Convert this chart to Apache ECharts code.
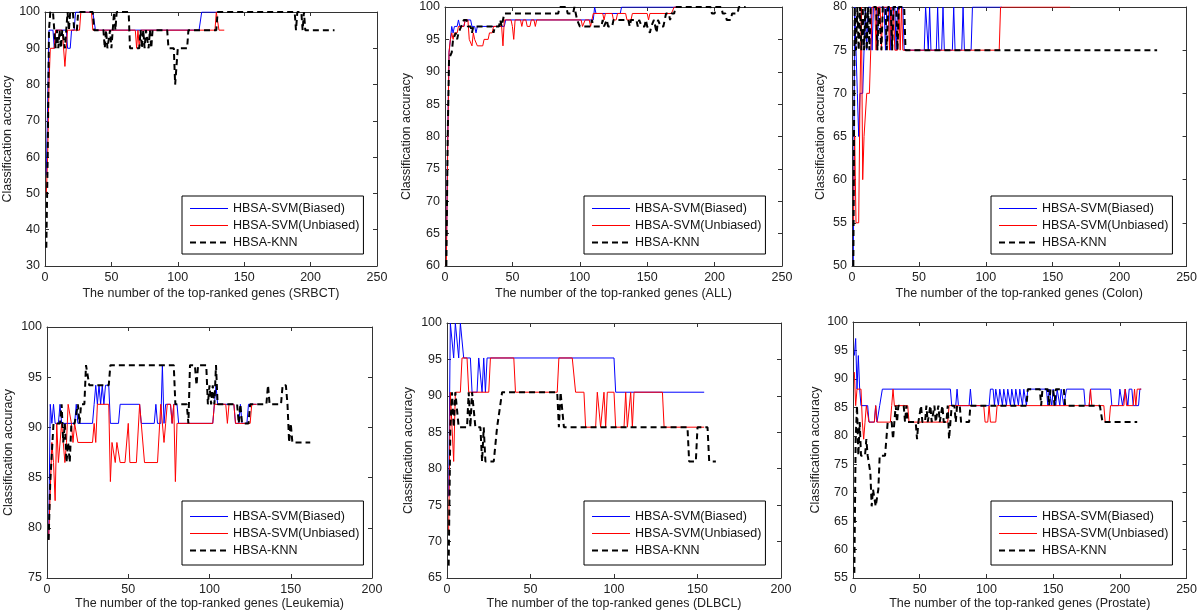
<!DOCTYPE html>
<html>
<head>
<meta charset="utf-8">
<script src="https://cdn.jsdelivr.net/npm/echarts@6/dist/echarts.min.js"></script>
<style>
html, body { margin: 0; padding: 0; background: #fff; }
#chart { width: 1200px; height: 611px; }
</style>
</head>
<body>
<div id="chart"></div>
<script>
// series names and dataset labels
const seriesNames = ["HBSA-SVM(Biased)", "HBSA-SVM(Unbiased)", "HBSA-KNN"];
const datasets = ["SRBCT", "ALL", "Colon", "Leukemia", "DLBCL", "Prostate"];
const xMax = [250, 250, 250, 200, 200, 250];
const yMin = [30, 60, 50, 75, 65, 55];
const yMax = [100, 100, 80, 100, 100, 100];
const yStep = [10, 5, 5, 5, 5, 5];

// [genes, accuracy] where the curve changes
const srbctBiased = [[1,55],[2,75],[3,95],[6,95],[7,90],[8,95],[16,95],[17,90],[19,90],[20,95],[22,95],[23,100],[36,100],[38,95],[116,95],[118,100],[133,100]];
const srbctUnbiased = [[1,50],[2,60],[3,80],[4,90],[7,90],[8,95],[13,95],[15,85],[17,95],[26,95],[27,100],[35,100],[36,95],[68,95],[69,90],[70,95],[71,90],[72,95],[128,95],[129,100],[130,100],[131,95],[135,95]];
const srbctKnn = [[1,35],[2,60],[3,95],[4,100],[6,100],[7,95],[8,90],[9,95],[10,90],[11,95],[12,90],[13,95],[14,95],[15,90],[16,95],[17,100],[18,95],[19,100],[21,100],[22,95],[24,95],[25,100],[36,100],[37,95],[44,95],[45,90],[46,95],[47,90],[48,90],[49,95],[50,90],[51,95],[52,100],[53,95],[54,100],[63,100],[64,90],[71,90],[72,95],[73,90],[74,95],[75,90],[76,95],[78,90],[79,95],[80,90],[81,95],[92,95],[93,90],[97,90],[98,80],[99,85],[100,90],[107,90],[108,95],[129,95],[130,100],[188,100],[189,95],[190,100],[193,100],[194,95],[195,100],[196,95],[218,95]];

const allBiased = [[1,62],[2,80],[3,93],[4,95],[5,97],[6,96],[7,97],[9,97],[10,98],[11,97],[14,97],[15,98],[19,98],[20,97],[22,97],[23,96],[24,97],[44,97],[45,98],[110,98],[111,100],[112,99],[130,99],[131,100],[175,100]];
const allUnbiased = [[1,60],[2,78],[3,93],[4,95],[5,96],[6,95],[7,96],[9,96],[10,97],[14,97],[15,98],[17,98],[18,95],[19,95],[20,94],[21,96],[22,95],[23,95],[24,94],[28,94],[29,95],[32,95],[33,96],[35,96],[36,97],[42,97],[43,94],[44,98],[49,98],[50,97],[51,95],[52,98],[56,98],[57,97],[58,98],[60,98],[61,97],[63,97],[64,98],[66,98],[67,97],[68,98],[101,98],[102,97],[103,97],[104,98],[107,98],[108,97],[109,98],[110,99],[117,99],[118,98],[119,99],[124,99],[125,98],[127,98],[128,99],[134,99],[135,98],[138,98],[139,99],[150,99],[151,98],[152,99],[168,99],[170,100],[174,100]];
const allKnn = [[1,60],[2,80],[3,92],[4,92],[5,93],[6,95],[7,95],[8,96],[9,95],[10,96],[11,96],[12,97],[14,98],[16,98],[17,97],[19,97],[20,96],[21,97],[35,97],[36,96],[37,97],[40,97],[41,98],[42,97],[43,98],[44,99],[84,99],[85,100],[90,100],[91,99],[95,99],[96,100],[97,99],[98,98],[99,98],[100,97],[108,97],[109,98],[110,97],[116,97],[117,98],[118,97],[120,98],[121,97],[124,97],[125,98],[136,98],[137,97],[138,98],[142,98],[143,97],[144,98],[146,97],[148,97],[149,98],[150,97],[152,96],[153,97],[155,98],[156,97],[157,96],[158,98],[160,97],[162,97],[163,98],[164,99],[166,99],[167,98],[168,99],[170,99],[171,100],[197,100],[198,99],[200,99],[201,100],[205,100],[206,99],[208,99],[209,98],[212,98],[213,99],[217,99],[218,100],[223,100]];

const colonBiased = [[1,50],[2,80],[3,75],[4,70],[5,65],[6,70],[8,70],[9,75],[10,80],[11,75],[12,80],[14,80],[15,75],[16,80],[18,80],[19,75],[20,80],[24,80],[25,75],[26,80],[28,80],[29,75],[30,80],[32,80],[33,75],[34,80],[38,80],[39,75],[54,75],[55,80],[56,80],[57,75],[58,80],[59,75],[63,75],[64,80],[65,75],[67,75],[68,80],[69,75],[75,75],[76,80],[77,75],[82,75],[83,80],[84,75],[89,75],[90,80],[112,80]];
const colonUnbiased = [[1,55],[2,65],[3,55],[5,55],[6,70],[7,80],[8,60],[9,65],[10,65],[11,70],[13,70],[14,75],[15,80],[17,80],[18,75],[19,80],[21,80],[22,75],[23,80],[27,80],[28,75],[29,80],[30,75],[31,80],[32,75],[34,75],[35,80],[36,75],[37,80],[38,75],[110,75],[111,80],[163,80]];
const colonKnn = [[1,50],[2,80],[3,75],[4,80],[5,75],[6,80],[7,75],[8,80],[9,75],[10,80],[11,75],[12,80],[13,75],[14,80],[18,80],[19,75],[20,80],[21,80],[22,75],[23,80],[25,80],[26,75],[27,80],[29,80],[30,75],[31,80],[33,80],[34,75],[35,80],[39,80],[40,75],[228,75]];

const leukBiased = [[1,78.8],[2,92.3],[3,90.4],[4,92.3],[5,90.4],[7,90.4],[8,92.3],[9,90.4],[17,90.4],[18,92.3],[19,90.4],[28,90.4],[29,92.3],[30,94.2],[31,92.3],[32,94.2],[33,92.3],[34,94.2],[35,92.3],[36,94.2],[38,94.2],[39,90.4],[44,90.4],[45,92.3],[57,92.3],[58,90.4],[66,90.4],[67,92.3],[68,90.4],[70,90.4],[71,96.2],[72,90.4],[73,92.3],[76,92.3],[77,90.4],[78,92.3],[80,92.3],[81,90.4],[102,90.4],[103,92.3],[104,94.2],[105,92.3],[115,92.3],[116,90.4],[118,90.4],[119,92.3],[120,90.4],[123,90.4],[124,92.3],[129,92.3]];
const leukUnbiased = [[1,78.8],[2,78.8],[3,88.5],[4,86.5],[5,82.7],[6,90.4],[7,86.5],[8,86.5],[9,90.4],[10,88.5],[11,86.5],[12,88.5],[13,92.3],[14,92.3],[15,90.4],[16,88.5],[17,90.4],[18,90.4],[19,88.5],[28,88.5],[29,90.4],[30,88.5],[31,92.3],[38,92.3],[39,84.6],[40,88.5],[41,88.5],[42,86.5],[43,88.5],[44,88.5],[45,86.5],[48,86.5],[50,90.4],[51,86.5],[55,86.5],[57,92.3],[58,90.4],[59,90.4],[60,86.5],[68,86.5],[70,92.3],[72,88.5],[73,90.4],[74,92.3],[76,92.3],[77,90.4],[78,92.3],[79,84.6],[80,90.4],[102,90.4],[103,92.3],[110,92.3],[111,90.4],[112,92.3],[115,92.3],[116,90.4],[125,90.4],[126,92.3],[129,92.3]];
const leukKnn = [[1,78.8],[2,84.6],[3,84.6],[4,90.4],[8,90.4],[9,92.3],[10,88.5],[11,90.4],[12,86.5],[13,88.5],[14,86.5],[15,90.4],[17,90.4],[19,92.3],[20,90.4],[21,92.3],[23,92.3],[24,96.2],[25,96.2],[26,94.2],[38,94.2],[39,96.2],[78,96.2],[79,92.3],[86,92.3],[87,90.4],[88,96.2],[91,96.2],[92,94.2],[93,96.2],[98,96.2],[99,92.3],[100,94.2],[101,92.3],[102,94.2],[103,92.3],[104,96.2],[105,92.3],[117,92.3],[118,90.4],[119,92.3],[120,90.4],[124,90.4],[125,92.3],[135,92.3],[136,94.2],[137,92.3],[144,92.3],[145,94.2],[147,94.2],[148,92.3],[149,88.5],[150,90.4],[151,88.5],[162,88.5]];

const dlbclBiased = [[1,76.2],[2,100],[3,100],[4,95.2],[5,100],[6,100],[7,95.2],[8,100],[9,100],[10,95.2],[14,95.2],[15,90.5],[18,90.5],[19,95.2],[20,95.2],[21,90.5],[22,95.2],[23,90.5],[24,95.2],[100,95.2],[101,90.5],[154,90.5]];
const dlbclUnbiased = [[1,71.4],[2,90.5],[3,85.7],[4,81],[5,90.5],[8,90.5],[9,95.2],[12,95.2],[13,90.5],[25,90.5],[26,95.2],[40,95.2],[41,90.5],[66,90.5],[67,95.2],[75,95.2],[77,90.5],[82,90.5],[83,85.7],[89,85.7],[90,90.5],[91,90.5],[92,85.7],[93,85.7],[94,90.5],[95,85.7],[96,90.5],[100,90.5],[101,85.7],[106,85.7],[107,90.5],[108,85.7],[109,85.7],[110,90.5],[111,85.7],[112,90.5],[129,90.5],[130,85.7],[154,85.7]];
const dlbclKnn = [[1,66.7],[2,85.7],[3,90.5],[4,85.7],[5,90.5],[6,90.5],[7,85.7],[12,85.7],[13,90.5],[14,85.7],[15,90.5],[16,90.5],[17,85.7],[20,85.7],[21,81],[22,85.7],[23,81],[28,81],[30,85.7],[31,85.7],[33,90.5],[66,90.5],[67,85.7],[68,90.5],[69,90.5],[70,85.7],[144,85.7],[145,81],[149,81],[150,85.7],[156,85.7],[157,81],[161,81]];

const prostateBiased = [[1,94.1],[2,97.1],[3,88.2],[4,94.1],[5,88.2],[6,85.3],[11,85.3],[12,82.4],[16,82.4],[17,85.3],[18,82.4],[19,82.4],[20,85.3],[21,85.3],[22,88.2],[73,88.2],[74,85.3],[77,85.3],[78,88.2],[79,85.3],[87,85.3],[88,88.2],[89,85.3],[102,85.3],[103,88.2],[105,88.2],[106,85.3],[107,88.2],[109,85.3],[110,88.2],[112,85.3],[113,88.2],[115,85.3],[116,88.2],[118,85.3],[119,88.2],[121,85.3],[122,88.2],[124,85.3],[125,88.2],[127,85.3],[128,88.2],[130,85.3],[131,88.2],[145,88.2],[146,85.3],[147,88.2],[149,85.3],[150,88.2],[152,85.3],[153,88.2],[155,85.3],[156,88.2],[158,85.3],[160,88.2],[173,88.2],[174,85.3],[177,85.3],[178,88.2],[193,88.2],[194,85.3],[199,85.3],[200,88.2],[201,88.2],[202,85.3],[203,85.3],[204,88.2],[205,88.2],[206,85.3],[207,88.2],[209,88.2],[210,85.3],[214,85.3],[215,88.2],[216,88.2]];
const prostateUnbiased = [[1,91.2],[2,85.3],[3,88.2],[6,88.2],[7,82.4],[8,79.4],[9,82.4],[10,85.3],[11,85.3],[12,82.4],[16,82.4],[17,85.3],[18,82.4],[28,82.4],[29,85.3],[30,88.2],[31,85.3],[41,85.3],[42,82.4],[71,82.4],[72,85.3],[98,85.3],[99,82.4],[101,82.4],[102,85.3],[103,82.4],[107,82.4],[108,85.3],[177,85.3],[178,88.2],[179,85.3],[188,85.3],[189,82.4],[192,82.4],[193,85.3],[203,85.3],[204,88.2],[205,85.3],[210,85.3],[211,88.2],[212,85.3],[213,88.2],[216,88.2]];
const prostateKnn = [[1,55.9],[2,79.4],[3,85.3],[4,76.5],[5,82.4],[6,76.5],[9,76.5],[10,79.4],[11,76.5],[12,76.5],[13,73.5],[14,67.6],[15,70.6],[16,70.6],[17,67.6],[18,67.6],[19,70.6],[20,76.5],[24,76.5],[25,79.4],[26,82.4],[29,82.4],[30,79.4],[31,82.4],[32,85.3],[33,82.4],[34,85.3],[38,85.3],[39,82.4],[40,85.3],[41,82.4],[47,82.4],[48,79.4],[49,82.4],[51,85.3],[52,82.4],[54,82.4],[55,85.3],[56,82.4],[58,85.3],[59,82.4],[61,85.3],[62,82.4],[64,85.3],[65,82.4],[67,85.3],[68,82.4],[70,82.4],[71,85.3],[72,79.4],[73,82.4],[74,85.3],[76,85.3],[77,82.4],[78,85.3],[80,85.3],[81,82.4],[87,82.4],[88,85.3],[130,85.3],[131,88.2],[140,88.2],[141,85.3],[142,88.2],[146,88.2],[147,85.3],[148,88.2],[150,88.2],[151,85.3],[152,88.2],[158,88.2],[159,85.3],[185,85.3],[187,82.4],[213,82.4]];

const panelData = [
    [srbctBiased, srbctUnbiased, srbctKnn],
    [allBiased, allUnbiased, allKnn],
    [colonBiased, colonUnbiased, colonKnn],
    [leukBiased, leukUnbiased, leukKnn],
    [dlbclBiased, dlbclUnbiased, dlbclKnn],
    [prostateBiased, prostateUnbiased, prostateKnn],
];

// plot boxes in px
const grids = [
    { left: 45, top: 12, width: 332, height: 254 },
    { left: 445, top: 7, width: 337, height: 259 },
    { left: 852, top: 7, width: 338, height: 259 },
    { left: 47, top: 327, width: 325, height: 251 },
    { left: 447, top: 323, width: 334, height: 255 },
    { left: 853, top: 322, width: 335, height: 256 },
];
const legendPos = [
    { left: 182, top: 196, padding: [6, 4, 5, 7] },
    { left: 584, top: 196, padding: [6, 4, 5, 7] },
    { left: 991, top: 196, padding: [6, 4, 5, 7] },
    { left: 182, top: 501, padding: [9, 4, 8, 7] },
    { left: 584, top: 501, padding: [9, 4, 8, 7] },
    { left: 991, top: 501, padding: [9, 4, 8, 7] },
];
const yNameGap = [31, 32, 25, 32, 32, 31];
const xNameGap = [21, 21, 21, 14, 14, 14];

const lineColors = ["#0000ff", "#ff0000", "#000000"];
const axisColor = "#333";
const font = "Liberation Sans, Arial, sans-serif";

let chart = echarts.init(document.getElementById("chart"), null, { renderer: "canvas" });

let xAxes = [];
let yAxes = [];
let series = [];
let legends = [];

for (let i = 0; i < 6; i++) {
    xAxes.push({
        gridIndex: i,
        type: "value",
        min: 0,
        max: xMax[i],
        interval: 50,
        name: "The number of the top-ranked genes (" + datasets[i] + ")",
        nameLocation: "middle",
        nameGap: xNameGap[i],
        nameTextStyle: { color: "#222", fontSize: 12.5, fontFamily: font },
        axisLine: { show: true, lineStyle: { color: axisColor, width: 1 } },
        axisTick: { show: true, inside: true, length: 4, lineStyle: { color: axisColor } },
        axisLabel: { color: "#222", fontSize: 12.5, fontFamily: font, margin: 5 },
        splitLine: { show: false },
    });
    yAxes.push({
        gridIndex: i,
        type: "value",
        min: yMin[i],
        max: yMax[i],
        interval: yStep[i],
        name: "Classification accuracy",
        nameLocation: "middle",
        nameGap: yNameGap[i],
        nameTextStyle: { color: "#222", fontSize: 12.5, fontFamily: font },
        axisLine: { show: true, lineStyle: { color: axisColor, width: 1 } },
        axisTick: { show: true, inside: true, length: 4, lineStyle: { color: axisColor } },
        axisLabel: { color: "#222", fontSize: 12.5, fontFamily: font, margin: 5 },
        splitLine: { show: false },
    });
}
// top and right edges of each box, ticks only
for (let i = 0; i < 6; i++) {
    xAxes.push({
        gridIndex: i,
        type: "value",
        position: "top",
        min: 0,
        max: xMax[i],
        interval: 50,
        axisLine: { show: true, onZero: false, lineStyle: { color: axisColor, width: 1 } },
        axisTick: { show: true, inside: true, length: 4, lineStyle: { color: axisColor } },
        axisLabel: { show: false },
        splitLine: { show: false },
    });
    yAxes.push({
        gridIndex: i,
        type: "value",
        position: "right",
        min: yMin[i],
        max: yMax[i],
        interval: yStep[i],
        axisLine: { show: true, onZero: false, lineStyle: { color: axisColor, width: 1 } },
        axisTick: { show: true, inside: true, length: 4, lineStyle: { color: axisColor } },
        axisLabel: { show: false },
        splitLine: { show: false },
    });
}

for (let i = 0; i < 6; i++) {
    for (let k = 0; k < 3; k++) {
        series.push({
            name: seriesNames[k],
            type: "line",
            xAxisIndex: i,
            yAxisIndex: i,
            data: panelData[i][k],
            symbol: "none",
            animation: false,
            lineStyle: {
                color: lineColors[k],
                width: k === 2 ? 2 : 1,
                type: k === 2 ? [6, 4] : "solid",
            },
            itemStyle: { color: lineColors[k] },
            z: 2 + k,
        });
    }
    legends.push({
        orient: "vertical",
        left: legendPos[i].left,
        top: legendPos[i].top,
        padding: legendPos[i].padding,
        itemGap: 4,
        itemWidth: 38,
        itemHeight: 14,
        backgroundColor: "#fff",
        borderColor: "#000",
        borderWidth: 1,
        borderRadius: 0,
        selectedMode: false,
        itemStyle: { opacity: 0 },
        lineStyle: { width: "inherit", type: "inherit" },
        textStyle: { color: "#111", fontSize: 12.5, fontFamily: font },
        data: seriesNames,
    });
}

let options = {
    backgroundColor: "#fff",
    animation: false,
    grid: grids,
    xAxis: xAxes,
    yAxis: yAxes,
    legend: legends,
    series: series,
};
chart.setOption(options);
</script>
</body>
</html>
